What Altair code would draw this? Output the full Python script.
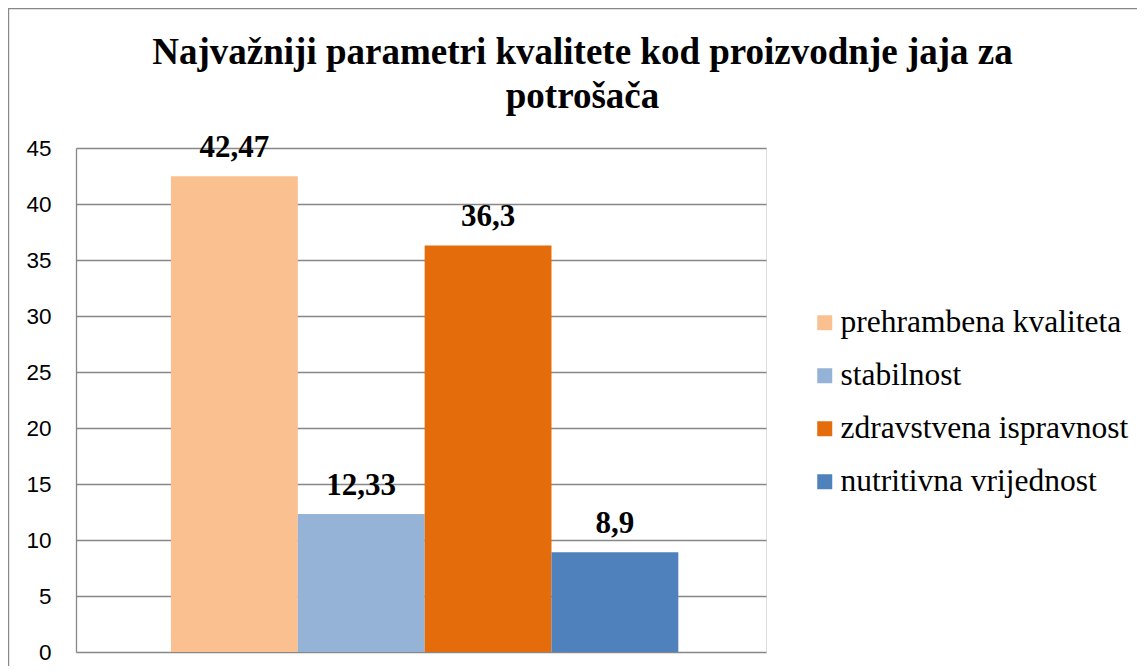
import altair as alt
import pandas as pd

categories = ["prehrambena kvaliteta", "stabilnost", "zdravstvena ispravnost", "nutritivna vrijednost"]
values = [42.47, 12.33, 36.3, 8.9]
value_labels = ["42,47", "12,33", "36,3", "8,9"]
colors = ["#FAC090", "#95B3D7", "#E46C0A", "#4F81BD"]
y_ticks = [0, 5, 10, 15, 20, 25, 30, 35, 40, 45]
title_lines = ["Najvažniji parametri kvalitete kod proizvodnje jaja za", "potrošača"]

df = pd.DataFrame({"kategorija": categories, "vrijednost": values, "oznaka": value_labels})

x_enc = alt.X("kategorija:N", sort=categories, axis=None,
              scale=alt.Scale(paddingInner=0, paddingOuter=0.72, align=0.52))

bars = alt.Chart(df).mark_bar().encode(
    x=x_enc,
    y=alt.Y("vrijednost:Q",
            scale=alt.Scale(domain=[0, 45], nice=False),
            axis=alt.Axis(values=y_ticks, title=None, ticks=False,
                          labelFont="Liberation Sans", labelFontSize=22.5, labelColor="#000000",
                          labelPadding=25, domainColor="#888888", domainWidth=1.3,
                          gridColor="#888888", gridWidth=1.3, grid=True)),
    color=alt.Color("kategorija:N", sort=categories,
                    scale=alt.Scale(domain=categories, range=colors),
                    legend=alt.Legend(title=None, orient="none", legendX=733, legendY=159,
                                      symbolType="square", symbolSize=225, symbolStrokeWidth=0,
                                      labelFont="Liberation Serif", labelFontSize=31.5,
                                      labelColor="#000000", labelOffset=0, rowPadding=20,
                                      padding=0, labelLimit=400)),
)

labels = alt.Chart(df).mark_text(
    font="Liberation Serif", fontSize=31, fontWeight="bold", color="#000000",
    baseline="alphabetic", dy=-19,
).encode(
    x=x_enc,
    y=alt.Y("vrijednost:Q"),
    text="oznaka:N",
)

title_style = dict(font="Liberation Serif", fontSize=37, fontWeight="bold", color="#000000",
                   baseline="alphabetic", align="center", clip=False)
title1 = alt.Chart(alt.Data(values=[{"a": 1}])).mark_text(**title_style).encode(
    x=alt.value(506.5), y=alt.value(-84), text=alt.value(title_lines[0]))
title2 = alt.Chart(alt.Data(values=[{"a": 1}])).mark_text(**title_style).encode(
    x=alt.value(506.5), y=alt.value(-40), text=alt.value(title_lines[1]))

frame = alt.Chart(alt.Data(values=[{"a": 1}])).mark_rect(
    fill=None, stroke="#888888", strokeWidth=1.2, clip=False
).encode(
    x=alt.value(-67.4), x2=alt.value(1300), y=alt.value(-139.4), y2=alt.value(800)
)

chart = alt.layer(bars, labels, title1, title2, frame).properties(
    width=690, height=504,
    padding={"left": 68, "top": 140, "right": 371, "bottom": 14},
    autosize=alt.AutoSizeParams(type="none"),
).configure_view(stroke=None).configure(background="white")

chart.save("out.html", embed_options={"renderer": "svg", "actions": False})
